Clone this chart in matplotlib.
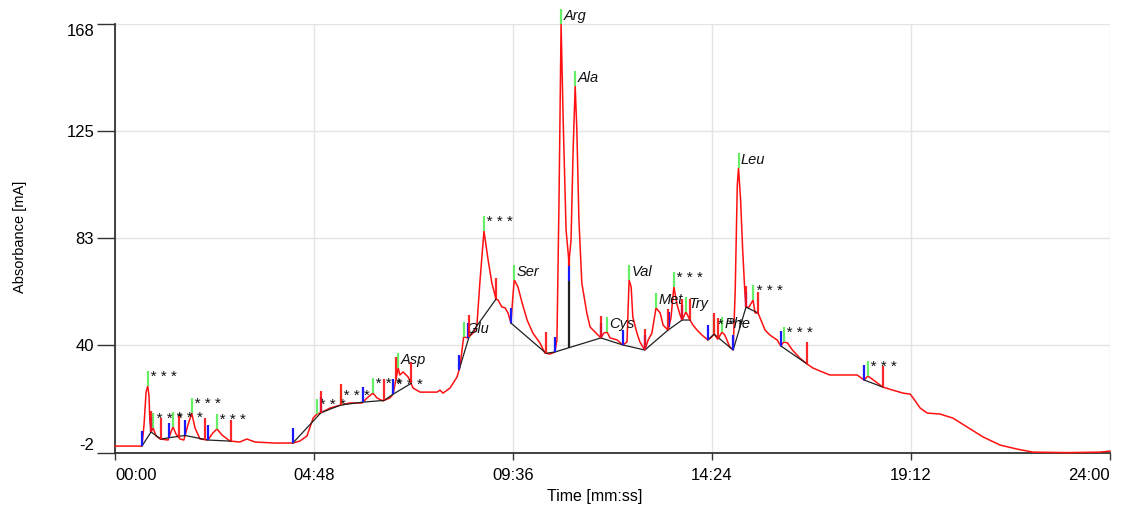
import numpy as np
import matplotlib
matplotlib.use("Agg")
import matplotlib.pyplot as plt

plt.rcParams['font.family'] = ['Liberation Sans', 'DejaVu Sans']

# chromatogram trace, time in minutes, absorbance in mA
time = [0.00, 0.60, 0.65, 0.70, 0.75, 0.79, 0.82, 0.84, 0.87, 0.92, 0.99, 1.09,
        1.28, 1.35, 1.40, 1.47, 1.57, 1.66, 1.76, 1.85, 1.93, 2.05, 2.24, 2.36,
        2.46, 2.58, 2.77, 3.01, 3.18, 3.38, 3.86, 4.29, 4.46, 4.63, 4.78, 4.87,
        4.95, 5.19, 5.45, 5.67, 5.96, 6.08, 6.22, 6.32, 6.46, 6.63, 6.71, 6.75,
        6.83, 6.87, 6.95, 7.07, 7.19, 7.36, 7.60, 7.77, 7.84, 7.91, 8.08, 8.25,
        8.32, 8.37, 8.41, 8.51, 8.59, 8.66, 8.73, 8.80, 8.90, 9.00, 9.09, 9.19,
        9.24, 9.33, 9.41, 9.48, 9.55, 9.60, 9.63, 9.72, 9.82, 9.94, 10.08, 10.25,
        10.37, 10.49, 10.61, 10.66, 10.71, 10.76, 10.81, 10.88, 10.95, 11.00, 11.05, 11.10,
        11.14, 11.19, 11.26, 11.38, 11.46, 11.58, 11.72, 11.79, 11.87, 11.94, 12.11, 12.25,
        12.35, 12.40, 12.45, 12.49, 12.59, 12.66, 12.78, 12.86, 12.95, 13.05, 13.15, 13.22,
        13.34, 13.41, 13.48, 13.56, 13.63, 13.68, 13.77, 13.87, 13.94, 14.04, 14.16, 14.30,
        14.37, 14.45, 14.54, 14.64, 14.71, 14.83, 14.91, 14.96, 15.01, 15.04, 15.09, 15.14,
        15.19, 15.22, 15.29, 15.39, 15.44, 15.51, 15.61, 15.68, 15.80, 15.97, 16.06, 16.13,
        16.22, 16.34, 16.52, 16.69, 16.83, 17.00, 17.24, 17.56, 17.90, 18.07, 18.16, 18.26,
        18.52, 18.76, 19.01, 19.18, 19.25, 19.42, 19.59, 19.90, 20.21, 20.55, 20.94, 21.35,
        21.76, 22.14, 22.96, 23.76, 24.00]
absorbance = [0.6, 0.6, 0.6, 9.0, 22.0, 24.4, 20.5, 10.9, 6.2, 7.8, 4.6, 3.4,
              3.0, 6.2, 8.2, 5.4, 3.4, 3.0, 9.0, 13.7, 7.8, 3.4, 3.0, 5.8,
              7.4, 5.0, 2.6, 2.2, 3.4, 2.2, 1.8, 1.8, 2.6, 4.6, 11.7, 13.3,
              13.7, 15.7, 16.9, 17.7, 17.7, 19.7, 21.6, 19.7, 18.5, 19.7, 21.2, 24.8,
              31.6, 28.8, 30.0, 28.0, 23.6, 22.0, 22.0, 22.0, 22.8, 21.6, 23.6, 28.0,
              32.0, 38.7, 43.9, 43.5, 44.7, 45.8, 48.6, 65.3, 85.9, 74.4, 65.3, 58.9,
              58.5, 55.8, 55.4, 53.4, 49.4, 60.5, 66.5, 63.7, 57.4, 50.6, 45.4, 41.5,
              37.5, 37.1, 37.9, 42.7, 98.2, 168.0, 129.9, 86.3, 73.6, 82.3, 118.0, 143.4,
              126.0, 90.3, 65.3, 53.4, 47.8, 45.8, 43.5, 45.4, 45.8, 43.5, 42.7, 40.7,
              41.9, 66.5, 63.7, 51.8, 45.4, 41.9, 38.7, 42.7, 45.4, 55.4, 53.4, 48.6,
              46.6, 51.4, 63.7, 56.6, 52.6, 50.6, 53.8, 50.6, 48.6, 46.6, 44.6, 42.7,
              43.5, 45.0, 43.0, 45.8, 44.6, 39.9, 38.7, 62.5, 104.1, 110.9, 98.2, 78.4,
              62.5, 55.7, 55.7, 58.5, 53.4, 53.4, 49.4, 46.6, 44.6, 42.7, 40.3, 41.9,
              41.5, 38.7, 35.5, 33.2, 31.6, 30.4, 28.8, 28.8, 28.8, 26.8, 28.4, 27.2,
              24.0, 22.8, 21.6, 21.2, 19.7, 15.7, 13.7, 13.3, 11.7, 8.2, 4.2, 1.0,
              -0.6, -1.8, -2.0, -1.8, -1.4]

# integration events
peak_start = [0.65, 0.87, 1.30, 1.69, 2.24, 4.29, 4.97, 5.98, 6.71, 8.30, 8.51, 9.55,
              10.61, 11.72, 12.25, 12.78, 13.36, 13.68, 14.30, 14.91, 15.22, 16.06, 18.07]
peak_apex = [0.79, 0.92, 1.40, 1.85, 2.46, 4.87, 5.45, 6.22, 6.71, 6.83, 8.41, 8.90,
             9.63, 10.76, 11.10, 11.87, 12.40, 13.05, 13.48, 13.77, 14.45, 14.64, 15.04,
             15.39, 16.13, 18.16]
peak_names = ['* * *', '* * *', '* * *', '* * *', '* * *', '* * *', '* * *', '* * *',
              '* * *', 'Asp', 'Glu', '* * *', 'Ser', 'Arg', 'Ala', 'Cys', 'Val', 'Met',
              '* * *', 'Try', '* * *', 'Phe', 'Leu', '* * *', '* * *', '* * *']
peak_end = [0.87, 1.11, 1.54, 2.17, 2.80, 4.97, 5.45, 6.49, 6.78, 7.14, 8.54, 9.19,
            10.40, 11.72, 12.78, 13.34, 13.68, 13.87, 14.45, 14.54, 15.22, 15.51, 16.69, 18.52]
baselines = [
    [0.65, 0.87, 1.11, 1.30, 1.69, 2.24, 2.80],
    [4.29, 4.97, 5.45, 5.98, 6.49, 6.71, 7.14],
    [8.30, 8.54, 9.19],
    [9.55, 10.40, 10.61, 11.72, 12.25, 12.78, 13.34, 13.68, 13.87],
    [14.30, 14.45, 14.91, 15.22, 15.51],
    [16.06, 16.69],
    [18.07, 18.52],
]
drop_time = 10.95

xticks = [0, 4.8, 9.6, 14.4, 19.2, 24]
xlabels = ['00:00', '04:48', '09:36', '14:24', '19:12', '24:00']
yticks = [-2, 40.5, 83, 125.5, 168]
ylabels = ['-2', '40', '83', '125', '168']

def level(t):
    return np.interp(t, time, absorbance)

fig = plt.figure(figsize=(11.33, 5.08), dpi=100)
ax = fig.add_axes([0.1015, 0.109, 0.8782, 0.8437])

ax.plot(time, absorbance, color='#ff1010', lw=1.1, zorder=3, clip_on=False)

# baselines
for grp in baselines:
    ax.plot(grp, level(grp), color='#202020', lw=0.9, zorder=4)

# perpendicular drop between Arg and Ala
v = level(drop_time)
bgrp = baselines[3]
b = np.interp(drop_time, bgrp, level(bgrp))
ax.vlines(drop_time, b, v - 7.5, color='#202020', lw=1.6, zorder=4)
ax.vlines(drop_time, v - 7.5, v - 1.5, color='#1a1aff', lw=1.6, zorder=5)
ax.vlines(drop_time, v - 1.5, v + 1.5, color='#ff1010', lw=1.6, zorder=5)

# apex markers and names
for t, name in zip(peak_apex, peak_names):
    top = level(t) + 6.0
    ax.vlines(t, level(t), top, color='#66ee66', lw=1.6, zorder=5, clip_on=False)
    stars = name.startswith('*')
    ax.text(t + 0.06, top + (0.5 if stars else 0), name, ha='left', va='top',
            fontsize=11 if stars else 10.5, style='italic', color='#111111', zorder=6)

for t in peak_start:
    ax.vlines(t, level(t), level(t) + 6.0, color='#1a1aff', lw=1.6, zorder=6)
for t in peak_end:
    ax.vlines(t, level(t), level(t) + 8.5, color='#ff1010', lw=1.6, zorder=7, alpha=0.9)

ax.set_xlim(0, 24)
ax.set_ylim(-2, 168)
ax.set_xticks(xticks)
ax.set_xticklabels(xlabels, fontsize=12)
ax.set_yticks(yticks)
ax.set_yticklabels(ylabels, fontsize=12)
# edge labels are kept inside the axis span
xt = ax.get_xticklabels()
xt[0].set_ha('left')
xt[-1].set_ha('right')
yt = ax.get_yticklabels()
yt[0].set_va('bottom')
yt[-1].set_va('top')

ax.grid(True, color='#e4e4e4', lw=1)
ax.set_axisbelow(True)
ax.tick_params(axis='y', length=13, width=1, pad=2, colors='#333333', labelcolor='black')
ax.tick_params(axis='x', length=5, width=1, pad=6, colors='#333333', labelcolor='black')
for s in ['top', 'right']:
    ax.spines[s].set_visible(False)
ax.spines['left'].set_color('#333333')
ax.spines['left'].set_linewidth(1.3)
ax.spines['bottom'].set_color('#333333')
ax.spines['bottom'].set_linewidth(1.3)

fig.text(20 / 1133, 1 - 237 / 508, 'Absorbance [mA]', rotation=90, ha='center', va='center', fontsize=10.5)
fig.text(595 / 1133, 1 - 497 / 508, 'Time [mm:ss]', ha='center', va='center', fontsize=11.5)

fig.savefig('out.png', dpi=100)
